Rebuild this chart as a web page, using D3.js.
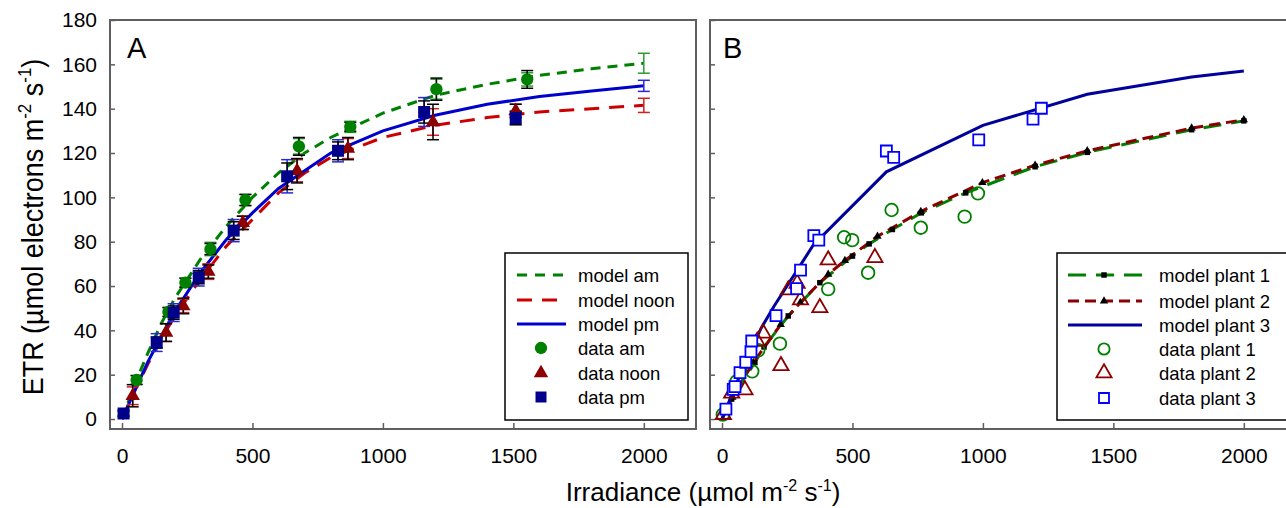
<!DOCTYPE html>
<html>
<head>
<meta charset="utf-8">
<script src="https://d3js.org/d3.v7.min.js"></script>
<style>
body { margin: 0; background: #fff; }
svg { display: block; font-family: Arial, "Liberation Sans", sans-serif; }
</style>
</head>
<body>
<svg width="1286" height="508"></svg>
<script>
// ---- panel A data (am / noon / pm) ----
var amX = [56, 178, 243, 339, 473, 678, 875, 1205, 1553];
var amY = [17.6, 48.3, 61.5, 76.7, 98.8, 123, 131.8, 148.8, 153.2];
var amErrBlack = [2, 2, 2, 2.5, 2.5, 4, 2, 5, 4];
var amErrCol = [2, 2, 2, 3, 2.5, 3.5, 2.5, 4.5, 3];

var noonX = [41, 169, 235, 331, 463, 671, 866, 1192, 1509];
var noonY = [10.5, 39, 51, 66.5, 88.5, 112, 122, 134, 139];
var noonErrBlack = [5, 4, 3.5, 3, 3, 5.5, 5, 8, 3];
var noonErrCol = [4, 4, 3, 3.5, 3, 5, 4.5, 6, 3];

var pmX = [6, 133, 198, 294, 428, 633, 828, 1158, 1509];
var pmY = [2.5, 34.5, 48, 64, 85, 109.5, 121, 138.5, 135.8];
var pmErrBlack = [1, 2.5, 3, 3, 4, 6, 4, 5, 3];
var pmErrCol = [1.5, 4, 4, 4, 5, 7.5, 5, 6.5, 3];

// model curves, panel A
var modelX = [0, 50, 100, 150, 200, 300, 400, 500, 600, 700, 800, 1000, 1200, 1400, 1600, 1800, 2000];
var modelAm = [0, 16, 30, 43, 54, 72, 87, 100, 111, 120, 127, 138, 146, 151, 155, 158, 160.5];
var modelNoon = [0, 13, 25, 36, 46, 63, 78, 90, 102, 111, 118, 127, 132.5, 136, 138.5, 140, 141.5];
var modelPm = [0, 13, 26, 37, 48, 66, 81, 93, 104, 112, 120, 130, 137, 142, 145.5, 148, 150.3];
// error bars at the end of the model curves (x = 2000)
var modelEndErr = [4.5, 3.2, 2.5]; // am, noon, pm

// ---- panel B data (plants) ----
var p1DataX = [3, 56, 116, 139, 222, 407, 468, 499, 560, 650, 762, 930, 981];
var p1DataY = [2, 17, 21.5, 31, 34, 58.6, 82, 80.7, 66, 94.3, 86.3, 91.3, 101.8];
var p2DataX = [5, 37, 88, 135, 158, 226, 254, 288, 301, 375, 407, 586];
var p2DataY = [2, 11.6, 13.1, 35, 38.7, 24, 58.2, 61.2, 53.7, 50.2, 71.7, 72.8];
var p3DataX = [15, 43, 50, 69, 91, 111, 114, 207, 286, 301, 352, 371, 630, 658, 984, 1192, 1224];
var p3DataY = [4.5, 13.4, 14.6, 20.9, 25.6, 30.4, 35.2, 46.6, 58.8, 67.2, 82.7, 80.7, 120.9, 118, 125.9, 135.3, 140.2];

var p1ModelX = [0, 37, 126, 161, 254, 375, 500, 564, 653, 764, 934, 1200, 1400, 1800, 2000];
var p1ModelY = [0, 9, 25.5, 32.5, 46.5, 61.5, 73.5, 79, 85.5, 93, 102, 113.8, 120.3, 130.5, 134.5];
var p2ModelX = [0, 40, 120, 225, 300, 407, 471, 596, 762, 998, 1200, 1400, 1800, 2000];
var p2ModelY = [0, 9.8, 25.5, 42.6, 52.5, 65.3, 71.5, 82.4, 93.6, 106.6, 114.5, 121, 131.2, 135];
var p3ModelX = [0, 50, 100, 150, 200, 350, 630, 1000, 1400, 1800, 2000];
var p3ModelY = [0, 14.5, 28.5, 41, 51, 78.5, 111.5, 132.5, 146.5, 154.3, 157];

var xTicks = [0, 500, 1000, 1500, 2000];
var yTicks = [0, 20, 40, 60, 80, 100, 120, 140, 160, 180];

var legendA = ["model am", "model noon", "model pm", "data am", "data noon", "data pm"];
var legendB = ["model plant 1", "model plant 2", "model plant 3", "data plant 1", "data plant 2", "data plant 3"];

var svg = d3.select("svg");
var frameColor = "#5f5f5f";

var y = d3.scaleLinear().domain([-4.5, 180]).range([429, 20]);
var xA = d3.scaleLinear().domain([-46, 2200]).range([110, 696]);
var xB = d3.scaleLinear().domain([-46, 2200]).range([710, 1296]);

function zip(xs, ys) {
    return xs.map(function (d, i) { return [d, ys[i]]; });
}

function drawAxes(x, showY) {
    var gy = svg.append("g")
        .attr("transform", "translate(" + x.range()[0] + ",0)")
        .call(d3.axisLeft(y).tickValues(yTicks).tickSize(-5).tickPadding(13)
            .tickFormat(showY ? d3.format("d") : ""));
    var gx = svg.append("g")
        .attr("transform", "translate(0,429)")
        .call(d3.axisBottom(x).tickValues(xTicks).tickSize(-6).tickPadding(19)
            .tickFormat(d3.format("d")));
    [gx, gy].forEach(function (g) {
        g.select(".domain").remove();
        g.selectAll(".tick line").attr("stroke", frameColor).attr("stroke-width", 1.5);
        g.selectAll("text").attr("fill", "#000").style("font-size", "21px")
            .style("font-family", "Arial, 'Liberation Sans', sans-serif");
    });
    svg.append("rect")
        .attr("x", x.range()[0]).attr("y", 20)
        .attr("width", x.range()[1] - x.range()[0]).attr("height", 409)
        .attr("fill", "none").attr("stroke", frameColor).attr("stroke-width", 2);
}

function drawLine(x, pts, color, dash, width) {
    var line = d3.line()
        .x(function (d) { return x(d[0]); })
        .y(function (d) { return y(d[1]); });
    svg.append("path")
        .datum(pts)
        .attr("d", line)
        .attr("fill", "none")
        .attr("stroke", color)
        .attr("stroke-width", width || 3)
        .attr("stroke-dasharray", dash);
}

function drawErr(x, xs, ys, es, color) {
    var g = svg.append("g").attr("stroke", color).attr("stroke-width", 1.5);
    xs.forEach(function (d, i) {
        var cx = x(d), t = y(ys[i] + es[i]), b = y(ys[i] - es[i]);
        g.append("line").attr("x1", cx).attr("x2", cx).attr("y1", t).attr("y2", b);
        g.append("line").attr("x1", cx - 6).attr("x2", cx + 6).attr("y1", t).attr("y2", t);
        g.append("line").attr("x1", cx - 6).attr("x2", cx + 6).attr("y1", b).attr("y2", b);
    });
}

function drawPoints(x, pts, type, size, fill, stroke, sw) {
    svg.append("g").selectAll("path")
        .data(pts)
        .enter().append("path")
        .attr("transform", function (d) { return "translate(" + x(d[0]) + "," + y(d[1]) + ")"; })
        .attr("d", d3.symbol().type(type).size(size))
        .attr("fill", fill)
        .attr("stroke", stroke)
        .attr("stroke-width", sw || 0);
}

// ================= panel A =================
drawAxes(xA, true);

drawLine(xA, zip(modelX, modelAm), "#008000", "10,7");
drawLine(xA, zip(modelX, modelNoon), "#cc0000", "15,10");
drawLine(xA, zip(modelX, modelPm), "#0000cc", null);

drawErr(xA, amX, amY, amErrCol, "#2e9b2e");
drawErr(xA, noonX, noonY, noonErrCol, "#d22020");
drawErr(xA, pmX, pmY, pmErrCol, "#2828d8");
drawErr(xA, amX, amY, amErrBlack, "#000");
drawErr(xA, noonX, noonY, noonErrBlack, "#000");
drawErr(xA, pmX, pmY, pmErrBlack, "#000");

var endVals = [modelAm, modelNoon, modelPm].map(function (m) { return m[m.length - 1]; });
drawErr(xA, [2000], [endVals[0]], [modelEndErr[0]], "#2e9b2e");
drawErr(xA, [2000], [endVals[1]], [modelEndErr[1]], "#d22020");
drawErr(xA, [2000], [endVals[2]], [modelEndErr[2]], "#2828d8");

drawPoints(xA, zip(amX, amY), d3.symbolCircle, 120, "#008000", "none");
drawPoints(xA, zip(noonX, noonY), d3.symbolTriangle, 90, "#8b0000", "none");
drawPoints(xA, zip(pmX, pmY), d3.symbolSquare, 144, "#00008b", "none");

// ================= panel B =================
drawAxes(xB, false);

drawLine(xB, zip(p1ModelX, p1ModelY), "#008000", "18,10");
drawLine(xB, zip(p2ModelX, p2ModelY), "#8b0000", "11,6");
drawPoints(xB, zip(p1ModelX.slice(1), p1ModelY.slice(1)), d3.symbolSquare, 30, "#000", "none");
drawPoints(xB, zip(p2ModelX.slice(1), p2ModelY.slice(1)), d3.symbolTriangle, 30, "#000", "none");
drawLine(xB, zip(p3ModelX, p3ModelY), "#00009b", null);

drawPoints(xB, zip(p1DataX, p1DataY), d3.symbolCircle, 125, "none", "#008000", 1.8);
drawPoints(xB, zip(p2DataX, p2DataY), d3.symbolTriangle, 100, "none", "#8b0000", 1.8);
drawPoints(xB, zip(p3DataX, p3DataY), d3.symbolSquare, 121, "#fff", "#0000ff", 1.8);

// panel letters
svg.append("text").attr("x", 127).attr("y", 58).style("font-size", "29px").text("A");
svg.append("text").attr("x", 723).attr("y", 58).style("font-size", "29px").text("B");

// ================= legends =================
var rowsA = [275, 300, 324, 348, 373, 397];
var rowsB = [275, 301, 325, 349, 373, 398];

function legendBox(x0, x1) {
    svg.append("rect")
        .attr("x", x0).attr("y", 253)
        .attr("width", x1 - x0).attr("height", 167)
        .attr("fill", "#fff").attr("stroke", "#000").attr("stroke-width", 1.5);
}

function legendText(x, rows, labels) {
    svg.append("g").selectAll("text")
        .data(labels)
        .enter().append("text")
        .attr("x", x)
        .attr("y", function (d, i) { return rows[i]; })
        .attr("dy", "0.36em")
        .style("font-size", "18.5px")
        .text(function (d) { return d; });
}

function legendLine(x0, x1, yy, color, dash) {
    svg.append("line")
        .attr("x1", x0).attr("x2", x1).attr("y1", yy).attr("y2", yy)
        .attr("stroke", color).attr("stroke-width", 3)
        .attr("stroke-dasharray", dash);
}

function legendSym(cx, cy, type, size, fill, stroke, sw) {
    svg.append("path")
        .attr("transform", "translate(" + cx + "," + cy + ")")
        .attr("d", d3.symbol().type(type).size(size))
        .attr("fill", fill).attr("stroke", stroke).attr("stroke-width", sw || 0);
}

legendBox(505, 688);
legendLine(517, 563, rowsA[0], "#008000", "10,8");
legendLine(517, 557, rowsA[1], "#cc0000", "15,10");
legendLine(517, 566, rowsA[2], "#0000cc", null);
legendSym(541, rowsA[3], d3.symbolCircle, 120, "#008000", "none");
legendSym(541, rowsA[4], d3.symbolTriangle, 90, "#8b0000", "none");
legendSym(541, rowsA[5], d3.symbolSquare, 121, "#00008b", "none");
legendText(578, rowsA, legendA);

legendBox(1057, 1288);
legendLine(1068, 1142, rowsB[0], "#008000", "18,10");
legendSym(1104, rowsB[0], d3.symbolSquare, 30, "#000", "none");
legendLine(1068, 1142, rowsB[1], "#8b0000", "11,6");
legendSym(1104, rowsB[1], d3.symbolTriangle, 30, "#000", "none");
legendLine(1068, 1142, rowsB[2], "#00009b", null);
legendSym(1104, rowsB[3], d3.symbolCircle, 100, "none", "#008000", 1.8);
legendSym(1104, rowsB[4], d3.symbolTriangle, 100, "none", "#8b0000", 1.8);
legendSym(1104, rowsB[5], d3.symbolSquare, 100, "#fff", "#0000ff", 1.8);
legendText(1159, rowsB, legendB);

// ================= axis titles =================
var xt = svg.append("text")
    .attr("x", 703).attr("y", 501)
    .attr("text-anchor", "middle")
    .style("font-size", "26px");
xt.append("tspan").text("Irradiance (\u00b5mol m");
xt.append("tspan").attr("dy", -10).style("font-size", "16px").text("-2");
xt.append("tspan").attr("dy", 10).text(" s");
xt.append("tspan").attr("dy", -10).style("font-size", "16px").text("-1");
xt.append("tspan").attr("dy", 10).text(")");

var yt = svg.append("text")
    .attr("transform", "translate(43,227) rotate(-90) scale(1,1.12)")
    .attr("text-anchor", "middle")
    .style("font-size", "27px");
yt.append("tspan").text("ETR (\u00b5mol electrons m");
yt.append("tspan").attr("dy", -11).style("font-size", "17px").text("-2");
yt.append("tspan").attr("dy", 11).text(" s");
yt.append("tspan").attr("dy", -11).style("font-size", "17px").text("-1");
yt.append("tspan").attr("dy", 11).text(")");
</script>
</body>
</html>
